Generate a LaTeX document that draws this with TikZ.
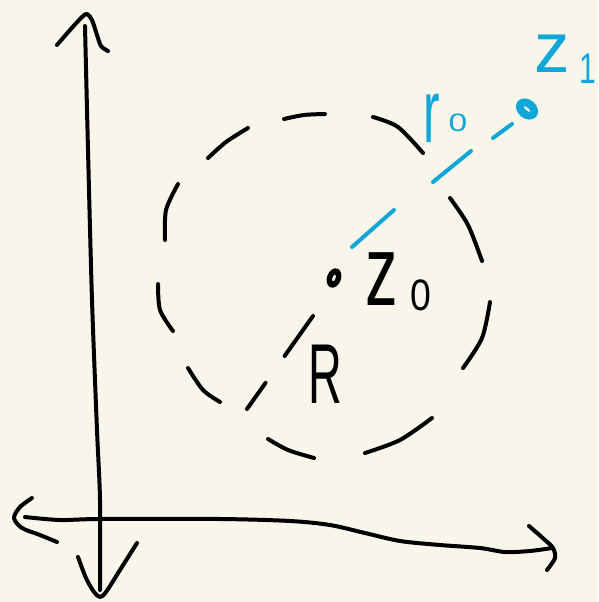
\documentclass[tikz,border=0pt]{standalone}
\usepackage{fontspec}
\setmainfont{Liberation Sans}
\definecolor{paper}{HTML}{F8F6EA}
\definecolor{cyanink}{HTML}{10A7D8}
\begin{document}
\begin{tikzpicture}[x=1pt,y=-1pt,
  ink/.style={line width=4pt, line cap=round, line join=round, draw=black},
  blueink/.style={ink, draw=cyanink},
  lbl/.style={inner sep=0pt, anchor=base, text=black},
  bluelbl/.style={lbl, text=cyanink}]
\fill[paper] (0,0) rectangle (598,602);
\useasboundingbox (0,0) rectangle (598,602);

% axes
\draw[ink] plot[smooth] coordinates {(85,26) (88,150) (92,300) (97,430) (100,500) (100,590)};
\draw[ink] plot[smooth] coordinates {(57,45) (70,30) (82,17) (87,14) (92,20) (97,35) (101,46) (108,51)};
\draw[ink] plot[smooth] coordinates {(78,557) (86,578) (94,592) (100,597) (106,592) (120,570) (137,543)};
\draw[ink] plot[smooth] coordinates {(25,517) (60,520) (100,519) (220,519) (290,521) (330,525) (365,533) (400,541) (440,545) (480,548) (505,552) (530,551) (552,548)};
\draw[ink] plot[smooth] coordinates {(32,498) (20,507) (14,518) (22,528) (40,535) (57,542)};
\draw[ink] plot[smooth] coordinates {(529,526) (545,540) (553,548) (555,558) (547,570)};

% dashed circle
\draw[ink] plot[smooth] coordinates {(284,119) (304,115) (325,114)};
\draw[ink] plot[smooth] coordinates {(208,158) (226,142) (248,128)};
\draw[ink] plot[smooth] coordinates {(178,184) (166,210) (165,240)};
\draw[ink] plot[smooth] coordinates {(158,284) (160,310) (173,331)};
\draw[ink] plot[smooth] coordinates {(188,368) (203,390) (220,402)};
\draw[ink] plot[smooth] coordinates {(268,439) (288,450) (314,458)};
\draw[ink] plot[smooth] coordinates {(365,453) (400,440) (432,418)};
\draw[ink] plot[smooth] coordinates {(490,302) (482,338) (463,368)};
\draw[ink] plot[smooth] coordinates {(450,198) (468,225) (482,261)};
\draw[ink] plot[smooth] coordinates {(373,117) (398,127) (423,153)};

% centre point and radius
\coordinate (c) at (334,278);
\fill[black, rotate around={-20:(c)}] (c) ellipse [x radius=7, y radius=10];
\fill[paper, rotate around={-20:(c)}] (c) ellipse [x radius=1.5, y radius=3.5];
\coordinate (ra) at (313,316);
\coordinate (rb) at (247,409);
\draw[ink, dash pattern=on 49pt off 33pt on 40pt off 10pt] (ra) -- (rb);

% z1 point and r0 line
\coordinate (p) at (527,109);
\fill[cyanink, rotate around={-40:(p)}] (p) ellipse [x radius=12, y radius=9.5];
\fill[paper, rotate around={-40:(p)}] (p) ellipse [x radius=4, y radius=1.3];
\draw[blueink] (512,124) -- (493,138);
\draw[blueink] (471,151) -- (433,182);
\draw[blueink] (394,210) -- (352,247);

% labels
\node[lbl, font=\fontsize{100}{100}\selectfont] (zz) at (382,305) {\scalebox{0.65}[1]{z}};
\node[lbl, font=\fontsize{44}{44}\selectfont] (zs) at (421,310) {\scalebox{0.85}[1]{0}};
\node[lbl, font=\fontsize{85}{85}\selectfont] (R) at (325,403) {\scalebox{0.55}[1]{R}};
\node[bluelbl, font=\fontsize{90}{90}\selectfont] (r) at (432,142) {\scalebox{0.55}[1]{r}};
\node[bluelbl, font=\fontsize{28}{28}\selectfont] (rs) at (458,131) {\scalebox{1.2}[0.9]{0}};
\node[bluelbl, font=\fontsize{71}{71}\selectfont] (zo) at (552,72) {z};
\node[bluelbl, font=\fontsize{43}{43}\selectfont] (zos) at (588,83) {\scalebox{0.7}[1]{1}};
\end{tikzpicture}
\end{document}
